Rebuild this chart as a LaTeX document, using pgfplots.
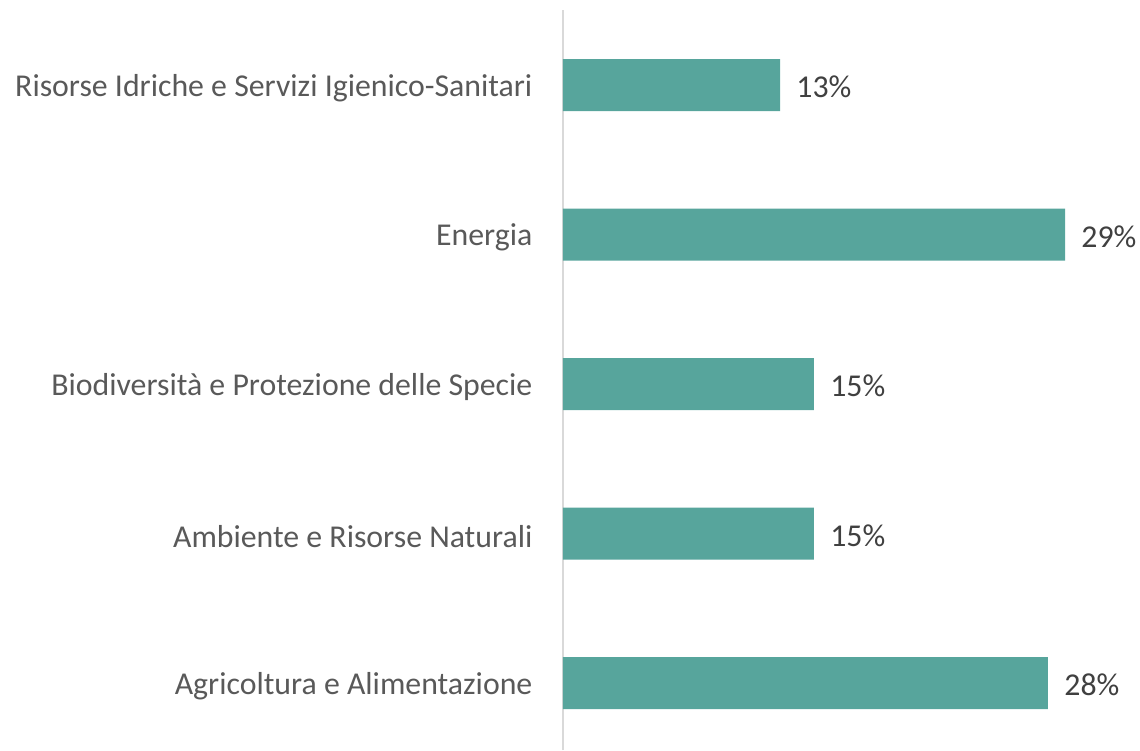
\documentclass[border=0pt]{standalone}
\usepackage{pgfplots}
\pgfplotsset{compat=1.18}
\usepackage{fontspec}
\setmainfont{Carlito}
\definecolor{barc}{HTML}{57A59C}
\definecolor{labc}{HTML}{595959}
\definecolor{valc}{HTML}{404040}
\definecolor{axc}{HTML}{D9D9D9}
\begin{document}
\begin{tikzpicture}
\useasboundingbox (0,0) rectangle (570pt,375pt);
\begin{axis}[
  at={(281.5pt,0pt)}, anchor=south west,
  scale only axis, width=288.5pt, height=370pt,
  xbar, bar width=26pt,
  xmin=0, xmax=33.55,
  ymin=-0.448, ymax=4.502,
  axis x line=none,
  axis y line=left,
  y axis line style={draw=axc, line width=0.9pt, -},
  ytick={0,1,2,3,4},
  yticklabels={Agricoltura e Alimentazione, Ambiente e Risorse Naturali, Biodiversità e Protezione delle Specie, Energia, Risorse Idriche e Servizi Igienico-Sanitari},
  ytick style={draw=none},
  yticklabel style={font=\fontsize{15.9pt}{19pt}\selectfont, text=labc, inner sep=0pt, anchor=east, xshift=-13pt, yshift=-1.5pt},
  nodes near coords={\pgfmathprintnumber[fixed,precision=0,assume math mode=true]{\pgfplotspointmeta}\%},
  every node near coord/.append style={font=\fontsize{15.9pt}{19pt}\selectfont, text=valc, inner sep=0pt, anchor=west, xshift=8pt, yshift=-1pt},
  clip=false,
]
\addplot[fill=barc, draw=none] coordinates {(28.20,0) (14.59,1) (14.59,2) (29.19,3) (12.62,4)};
\end{axis}
\end{tikzpicture}
\end{document}
